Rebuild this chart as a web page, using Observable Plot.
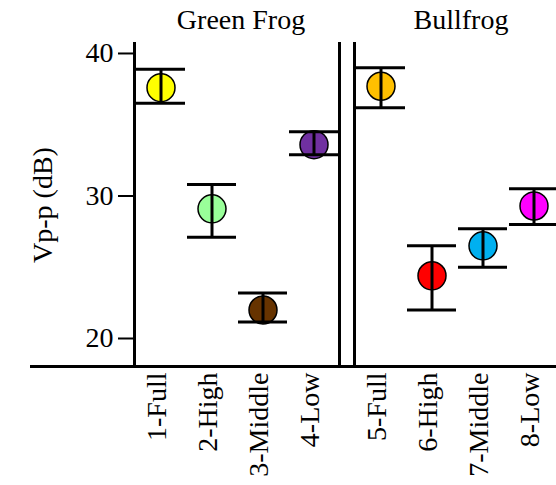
<!DOCTYPE html>
<html><head><meta charset="utf-8">
<script src="https://cdn.jsdelivr.net/npm/d3@7"></script>
<script src="https://cdn.jsdelivr.net/npm/@observablehq/plot@0.6"></script>
<style>body{margin:0;background:#fff} svg{display:block}</style>
</head><body><div id="chart"></div>
<script>
const species = ["Green Frog","Green Frog","Green Frog","Green Frog","Bullfrog","Bullfrog","Bullfrog","Bullfrog"];
const levels = ["Full","High","Middle","Low","Full","High","Middle","Low"];
const labels = ["1-Full","2-High","3-Middle","4-Low","5-Full","6-High","7-Middle","8-Low"];
const means = [37.6, 29.1, 22.0, 33.6, 37.7, 24.4, 26.5, 29.3];
const upper = [38.9, 30.8, 23.2, 34.5, 39.0, 26.5, 27.7, 30.5];
const lower = [36.5, 27.1, 21.15, 32.9, 36.2, 22.0, 25.0, 28.0];
const colors = ["#FFFF00","#99FF99","#663300","#7030A0","#FFC000","#FF0000","#00B0F0","#FF00FF"];
const yTicks = [20, 30, 40];
const yDomain = [18.035, 40.7];

const data = labels.map((l, i) => ({species: species[i], level: levels[i], label: l, mean: means[i], hi: upper[i], lo: lower[i], color: colors[i]}));
const font = "'Liberation Serif', 'Times New Roman', serif";

const chart = Plot.plot({
  width: 556, height: 485,
  marginLeft: 134, marginRight: -4, marginTop: 43, marginBottom: 119,
  style: {fontFamily: font, fontSize: "28px", color: "#000", background: "#fff", overflow: "visible"},
  fx: {domain: ["Green Frog", "Bullfrog"], paddingInner: 0.068, paddingOuter: 0, label: null},
  x: {domain: ["Full", "High", "Middle", "Low"], padding: 0, axis: null},
  y: {domain: yDomain},
  color: {type: "identity"},
  marks: [
    Plot.frame({anchor: "left", strokeWidth: 3}),
    Plot.frame({anchor: "right", strokeWidth: 3}),
    Plot.ruleY([yDomain[0]], {insetLeft: -104, insetRight: -20, strokeWidth: 3}),
    Plot.axisFx({anchor: "top", tickSize: 0, tickPadding: 15, label: null, dx: 4, fontSize: 28}),
    Plot.axisY(yTicks, {anchor: "left", tickSize: 16, tickPadding: 5, strokeWidth: 2, fontSize: 28,
      label: "Vp-p (dB)", labelAnchor: "center", labelOffset: 102, labelArrow: "none"}),
    Plot.text(data, {fx: "species", x: "level", text: "label", frameAnchor: "bottom", rotate: -90, textAnchor: "end", dy: 6, dx: 5, fontSize: 28}),
    Plot.dot(data, {fx: "species", x: "level", y: "mean", r: 14, fill: "color", stroke: "black", strokeWidth: 1.5}),
    Plot.ruleX(data, {fx: "species", x: "level", y1: "lo", y2: "hi", strokeWidth: 3}),
    Plot.tickY(data, {fx: "species", x: "level", y: "hi", strokeWidth: 3, insetLeft: 1, insetRight: 1}),
    Plot.tickY(data, {fx: "species", x: "level", y: "lo", strokeWidth: 3, insetLeft: 1, insetRight: 1})
  ]
});
document.getElementById("chart").appendChild(chart);
</script>
</body></html>
